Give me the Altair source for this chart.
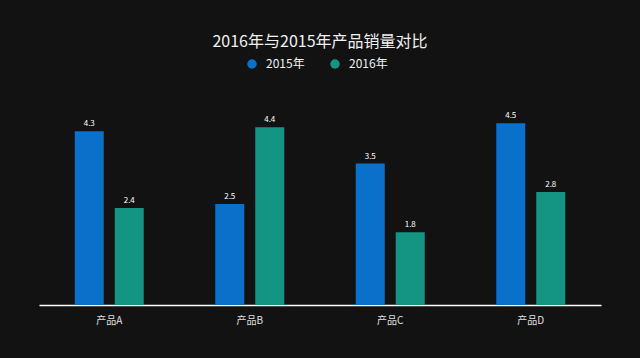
import altair as alt
import pandas as pd

products = ["产品A", "产品B", "产品C", "产品D"]
sales_2015 = [4.3, 2.5, 3.5, 4.5]
sales_2016 = [2.4, 4.4, 1.8, 2.8]
years = ["2015年", "2016年"]
colors = ["#0b70c9", "#149482"]

rows = []
for i, p in enumerate(products):
    rows.append({"product": p, "year": years[0], "value": sales_2015[i]})
    rows.append({"product": p, "year": years[1], "value": sales_2016[i]})
df = pd.DataFrame(rows)

FONT = "Noto Sans CJK SC"

base = alt.Chart(df).encode(
    x=alt.X("product:N", sort=products, scale=alt.Scale(paddingInner=0, paddingOuter=0),
            axis=alt.Axis(title=None, labelAngle=0, ticks=False, domainColor="#ffffff",
                          domainWidth=1.5, labelColor="#e0e0e0", labelFontSize=10,
                          labelFont=FONT, labelPadding=10)),
    xOffset=alt.XOffset("year:N", sort=years,
                        scale=alt.Scale(paddingInner=0.275, paddingOuter=0.894)),
    y=alt.Y("value:Q", scale=alt.Scale(domain=[0, 5], nice=False), axis=None),
)

bars = base.mark_bar().encode(
    color=alt.Color("year:N", sort=years, scale=alt.Scale(domain=years, range=colors),
                    legend=alt.Legend(title=None, orient="none", direction="horizontal",
                                      legendX=207, legendY=-45, symbolType="circle",
                                      symbolSize=90, symbolStrokeWidth=0,
                                      labelColor="#f0f0f0", labelFontSize=12, labelFont=FONT,
                                      columnPadding=24, labelOffset=8))
)

labels = base.mark_text(dy=-7, fontSize=8, color="#ffffff", font=FONT).encode(
    text=alt.Text("value:Q", format=".1f")
)

chart = (bars + labels).properties(
    width=562, height=202,
    title=alt.Title("2016年与2015年产品销量对比", color="#f0f0f0", fontSize=16,
                    font=FONT, fontWeight="normal", anchor="middle", offset=8),
    autosize=alt.AutoSizeParams(type="none"),
    padding={"left": 39, "top": 103, "right": 39, "bottom": 53},
    background="#121212",
).configure_view(stroke=None)

chart.save("out.html", embed_options={"renderer": "svg", "actions": False})
